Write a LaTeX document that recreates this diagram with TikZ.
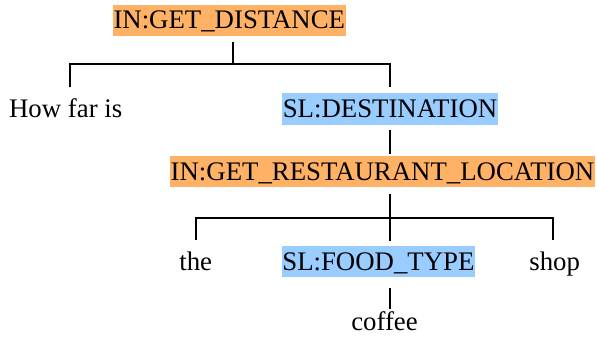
\documentclass[tikz,border=0pt]{standalone}
\usepackage{fontspec}
\setmainfont{Liberation Serif}
\newfontfamily\tms{Liberation Serif}
\definecolor{intent}{RGB}{255,178,102}
\definecolor{slot}{RGB}{153,204,255}
\begin{document}
\begin{tikzpicture}[x=1pt,y=-1pt,
  lbl/.style={anchor=base,inner sep=0pt,inner xsep=0.5pt,outer sep=0pt,text height=24pt,text depth=7.3pt,font=\tms\fontsize{26.8}{32}\selectfont},
  inbox/.style={lbl,fill=intent},
  slbox/.style={lbl,fill=slot},
  edge/.style={line width=2pt,line cap=rect}]
\useasboundingbox (0,0) rectangle (597,337);
\node[inbox] (top) at (229.3,29) {IN:GET\_DISTANCE};
\node[lbl] (how) at (65.7,117.3) {How far is};
\node[slbox] (dest) at (390,117.3) {SL:DESTINATION};
\node[inbox] (rest) at (382.5,180) {IN:GET\_RESTAURANT\_LOCATION};
\node[lbl] (the) at (195.7,270) {the};
\node[slbox] (food) at (378.4,270) {SL:FOOD\_TYPE};
\node[lbl] (shop) at (554.7,270) {shop};
\node[lbl] (coffee) at (384.5,330.7) {coffee};
\coordinate (a0) at (232.5,64);
\coordinate (a1) at (70,64);
\coordinate (a2) at (390,64);
\coordinate (b0) at (390,218);
\coordinate (b1) at (196,218);
\coordinate (b2) at (553,218);
\draw[edge] ([yshift=-6.5pt]top.south -| a0) -- (a0);
\draw[edge,line cap=butt] ([yshift=6pt]how.north -| a1) -- (a1) -- (a2) -- ([yshift=6pt]dest.north -| a2);
\draw[edge] ([yshift=-6.4pt]dest.south -| a2) -- ([yshift=3.3pt]rest.north -| a2);
\draw[edge] ([yshift=-8pt]rest.south -| b0) -- ([yshift=6pt]food.north -| b0);
\draw[edge,line cap=butt] ([yshift=6pt]the.north -| b1) -- (b1) -- (b2) -- ([yshift=6pt]shop.north -| b2);
\draw[edge] ([yshift=-12pt]food.south -| b0) -- ([yshift=-1.5pt]coffee.north -| b0);
\end{tikzpicture}
\end{document}
